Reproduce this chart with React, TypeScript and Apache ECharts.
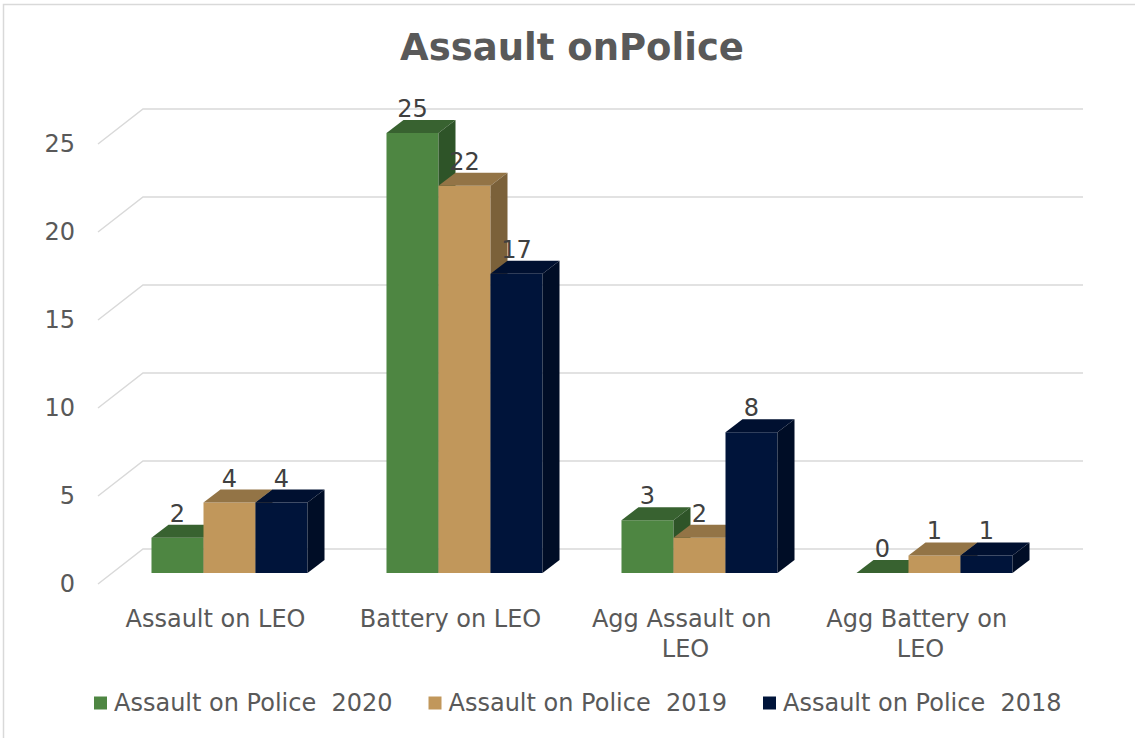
import React, { useEffect, useRef } from "react";
import * as echarts from "echarts";

const categories = ["Assault on LEO", "Battery on LEO", "Agg Assault on LEO", "Agg Battery on LEO"];
const seriesNames = ["Assault on Police  2020", "Assault on Police  2019", "Assault on Police  2018"];
const values2020 = [2, 25, 3, 0];
const values2019 = [4, 22, 2, 1];
const values2018 = [4, 17, 8, 1];
const yTicks = [0, 5, 10, 15, 20, 25];

const frontColors = ["#4E8642", "#C1975B", "#00143A"];
const topColors = ["#386230", "#937446", "#001030"];
const sideColors = ["#2E5428", "#7B613A", "#000D26"];

const FONT = "DejaVu Sans";
// depth styling
const FLOOR_DX = 45;
const FLOOR_DY = 35;
const OFF_X = 14;
const OFF_Y = 11;
const BAR_DX = 17;
const BAR_DY = 13;
const BAR_FRAC = 0.2213;

export default function App() {
  const ref = useRef<HTMLDivElement>(null);
  useEffect(() => {
    if (!ref.current) return;
    const chart = echarts.init(ref.current, null, { renderer: "svg" });
    const all = [values2020, values2019, values2018];

    const barSeries = all.map((vals, si) => ({
      type: "custom",
      name: seriesNames[si],
      itemStyle: { color: frontColors[si] },
      z: 3,
      data: vals.map((v, ci) => [ci, v]),
      encode: { x: 0, y: 1 },
      renderItem: (params: any, api: any) => {
        const c = api.value(0);
        const v = api.value(1);
        const base = api.coord([c, 0]);
        const top = api.coord([c, v]);
        const band = api.size([1, 0])[0];
        const bw = band * BAR_FRAC;
        const xL = base[0] - (3 * bw) / 2 + si * bw + OFF_X;
        const xR = xL + bw;
        const yB = base[1] - OFF_Y;
        const yT = top[1] - OFF_Y;
        return {
          type: "group",
          children: [
            {
              type: "rect",
              shape: { x: xL, y: yT, width: bw, height: yB - yT },
              style: { fill: frontColors[si] },
            },
            {
              type: "polygon",
              shape: {
                points: [
                  [xL, yT],
                  [xL + BAR_DX, yT - BAR_DY],
                  [xR + BAR_DX, yT - BAR_DY],
                  [xR, yT],
                ],
              },
              style: { fill: topColors[si] },
            },
            {
              type: "polygon",
              shape: {
                points: [
                  [xR, yT],
                  [xR + BAR_DX, yT - BAR_DY],
                  [xR + BAR_DX, yB - BAR_DY],
                  [xR, yB],
                ],
              },
              style: { fill: sideColors[si] },
            },
            {
              type: "text",
              x: (xL + xR) / 2,
              y: yT - BAR_DY - 11,
              style: {
                text: String(v),
                fill: "#404040",
                font: `24px "${FONT}"`,
                textAlign: "center",
                textVerticalAlign: "middle",
                align: "center",
                verticalAlign: "middle",
              },
            },
          ],
        };
      },
    }));

    const gridSeries = {
      type: "custom",
      name: "grid",
      z: 1,
      silent: true,
      data: yTicks.map((t) => [0, t]),
      encode: { x: 0, y: 1 },
      renderItem: (params: any, api: any) => {
        const cs = params.coordSys;
        const y = api.coord([0, api.value(1)])[1];
        const x0 = cs.x;
        return {
          type: "polyline",
          shape: {
            points: [
              [x0, y],
              [x0 + FLOOR_DX, y - FLOOR_DY],
              [x0 + cs.width + FLOOR_DX, y - FLOOR_DY],
            ],
          },
          style: { stroke: "#D9D9D9", lineWidth: 1.5, fill: "none" },
        };
      },
    };

    chart.setOption({
      animation: false,
      backgroundColor: "#ffffff",
      textStyle: { fontFamily: FONT },
      title: {
        text: "Assault onPolice",
        left: 395,
        top: 24,
        textStyle: { fontFamily: FONT, fontSize: 37, fontWeight: "bold", color: "#595959" },
      },
      graphic: [
        {
          type: "rect",
          shape: { x: 3.5, y: 4.5, width: 1300, height: 900 },
          style: { fill: "none", stroke: "#D9D9D9", lineWidth: 1.5 },
          silent: true,
          z: 0,
        },
      ],
      legend: {
        data: seriesNames,
        bottom: 18,
        left: 89,
        itemGap: 36,
        itemWidth: 13,
        itemHeight: 13,
        icon: "rect",
        textStyle: { fontFamily: FONT, fontSize: 24, color: "#595959", padding: [0, 0, 0, 2] },
      },
      grid: { left: 98, top: 144, width: 940, height: 440 },
      xAxis: {
        type: "category",
        data: categories,
        axisLine: { show: false },
        axisTick: { show: false },
        splitLine: { show: false },
        axisLabel: {
          interval: 0,
          margin: 20,
          fontFamily: FONT,
          fontSize: 24,
          color: "#595959",
          lineHeight: 30,
          width: 205,
          overflow: "break",
        },
      },
      yAxis: {
        type: "value",
        min: 0,
        max: 25,
        interval: 5,
        axisLine: { show: false },
        axisTick: { show: false },
        splitLine: { show: false },
        axisLabel: { margin: 23, fontFamily: FONT, fontSize: 24, color: "#595959" },
      },
      series: [gridSeries, ...barSeries],
    });
    return () => chart.dispose();
  }, []);
  return (
    <div
      ref={ref}
      style={{ position: "fixed", left: 0, top: 0, width: 1135, height: 738 }}
    />
  );
}
